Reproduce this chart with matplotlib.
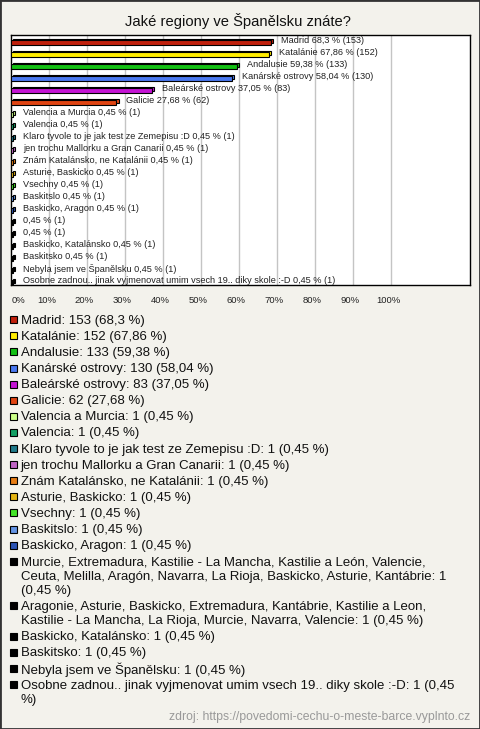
import matplotlib
matplotlib.use('Agg')
import matplotlib.pyplot as plt
from matplotlib.patches import Rectangle
from matplotlib.transforms import ScaledTranslation

plt.rcParams['font.family'] = ['Liberation Sans', 'DejaVu Sans']

# data
regions = [
    "Madrid", "Katalánie", "Andalusie", "Kanárské ostrovy", "Baleárské ostrovy", "Galicie",
    "Valencia a Murcia", "Valencia", "Klaro tyvole to je jak test ze Zemepisu :D",
    "jen trochu Mallorku a Gran Canarii", "Znám Katalánsko, ne Katalánii", "Asturie, Baskicko",
    "Vsechny", "Baskitslo", "Baskicko, Aragon",
    "Murcie, Extremadura, Kastilie - La Mancha, Kastilie a León, Valencie, Ceuta, Melilla, "
    "Aragón, Navarra, La Rioja, Baskicko, Asturie, Kantábrie",
    "Aragonie, Asturie, Baskicko, Extremadura, Kantábrie, Kastilie a Leon, "
    "Kastilie - La Mancha, La Rioja, Murcie, Navarra, Valencie",
    "Baskicko, Katalánsko", "Baskitsko", "Nebyla jsem ve Španělsku",
    "Osobne zadnou.. jinak vyjmenovat umim vsech 19.. diky skole :-D",
]
# long answers are shown without a name next to the bars
bar_names = regions[:15] + ["", ""] + regions[17:]
counts = [153, 152, 133, 130, 83, 62] + [1] * 15
percents = [68.3, 67.86, 59.38, 58.04, 37.05, 27.68] + [0.45] * 15
colors = ["#c0200c", "#ffec00", "#14c014", "#4a78f0", "#c414d4", "#e04412",
          "#ccff88", "#14a064", "#207a8a", "#c064c4", "#e67c14", "#e4b414",
          "#44e428", "#6494e4", "#2c54b4"] + ["#000000"] * 6
xticks = [0, 10, 20, 30, 40, 50, 60, 70, 80, 90, 100]

W, H = 480, 729
bg = "#f3f2ec"

def fmt(p):
    return str(p).replace('.', ',')

def fx(px):
    return px / W

def fy(py):
    return 1 - py / H

fig = plt.figure(figsize=(W / 100, H / 100), dpi=100, facecolor=bg)
fig.patches.append(Rectangle((0, 0), 1, 1, transform=fig.transFigure, fill=False,
                             edgecolor="#333333", linewidth=2))

fig.text(fx(238), fy(21), "Jaké regiony ve Španělsku znáte?", ha='center', va='center',
         fontsize=10.6, color='#111111')

ax = fig.add_axes([fx(10.7), fy(284.7), fx(470 - 10.7), (284.7 - 35) / H])
ax.set_facecolor('white')
for s in ax.spines.values():
    s.set_color('black')
    s.set_linewidth(1)

n = len(regions)
rows = list(range(n))
ax.set_xlim(-0.16, 120.7)
ax.set_ylim(n - 1 + 0.31, -0.5)

for x in xticks[1:]:
    ax.axvline(x, color='#c4c4c4', linewidth=1, zorder=0)

bh = 0.36
dx, dy = 0.55, 0.13
for i in rows:
    yb = i + 0.12
    ax.barh(yb - dy, percents[i], left=dx, height=bh, color=colors[i],
            edgecolor='black', linewidth=0.8, zorder=2)
    ax.barh(yb, percents[i], height=bh, color=colors[i],
            edgecolor='black', linewidth=0.8, zorder=3)
    name = bar_names[i]
    lab = f"{fmt(percents[i])} % ({counts[i]})"
    if name:
        lab = name + " " + lab
    ax.annotate(lab, (percents[i], i), xytext=(7.2, 0), textcoords='offset points',
                ha='left', va='center', fontsize=6.6, color='#222222', zorder=4)

ax.set_yticks([])
ax.set_xticks(xticks)
ax.set_xticklabels([f"{x}%" for x in xticks], fontsize=6.8, color='#222222')
ax.tick_params(axis='x', length=0, pad=8)
shift = ScaledTranslation(-3 / 100, 0, fig.dpi_scale_trans)
for k, t in enumerate(ax.get_xticklabels()):
    if k == 0:
        t.set_ha('left')
    else:
        t.set_transform(t.get_transform() + shift)

# legend below the chart, wrapped by pixel width
renderer = fig.canvas.get_renderer()
leg_fs = 9.5

def text_width(s):
    t = fig.text(0, 0, s, fontsize=leg_fs)
    w = t.get_window_extent(renderer).width
    t.remove()
    return w

def wrap(s, limit):
    lines, cur = [], ""
    for w in s.split(" "):
        test = w if not cur else cur + " " + w
        if text_width(test) <= limit or not cur:
            cur = test
        else:
            lines.append(cur)
            cur = w
    lines.append(cur)
    return lines

y = 320.7
for i in rows:
    label = f"{regions[i]}: {counts[i]} ({fmt(percents[i])} %)"
    lines = wrap(label, 441)
    fig.patches.append(Rectangle((fx(9.5), fy(y + 2.5)), 7 / W, 7 / H,
                                 transform=fig.transFigure, facecolor=colors[i],
                                 edgecolor='black', linewidth=0.8))
    for j, line in enumerate(lines):
        fig.text(fx(20.7), fy(y + j * 14.3), line, ha='left', va='center',
                 fontsize=leg_fs, color='#111111')
    y += (len(lines) - 1) * 14.3 + 16.1

fig.text(fx(470), fy(716.7), "zdroj: https://povedomi-cechu-o-meste-barce.vyplnto.cz",
         ha='right', va='center', fontsize=8.8, color='#999999')

fig.savefig('out.png', dpi=100, facecolor=bg)
